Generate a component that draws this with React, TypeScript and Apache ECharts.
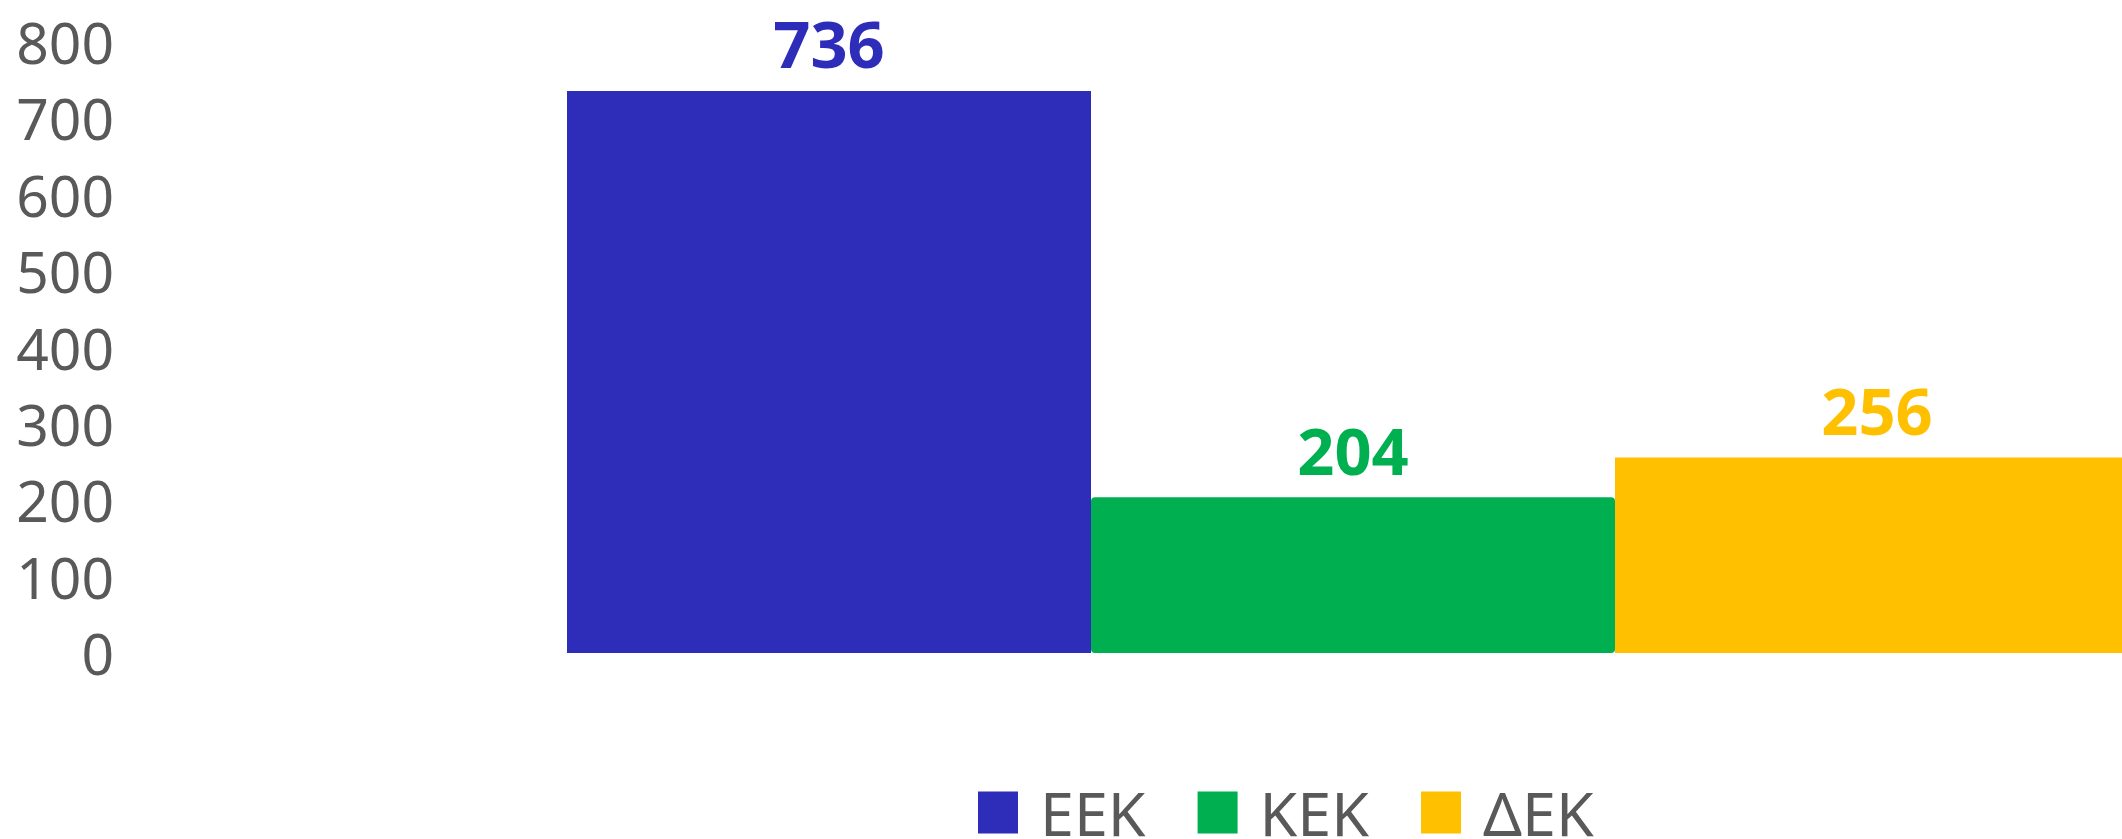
import React, { useEffect, useRef } from "react";
import * as echarts from "echarts";

const categories = [""];
const seriesNames = ["ΕΕΚ", "ΚΕΚ", "ΔΕΚ"];
const seriesValues = [[736], [204], [256]];
const seriesColors = ["#2E2DB9", "#00B050", "#FFC000"];
const yMin = 0;
const yMax = 800;
const yInterval = 100;

const FONT = "'Noto Sans', 'DejaVu Sans', sans-serif";

export default function App() {
  const ref = useRef<HTMLDivElement>(null);
  useEffect(() => {
    if (!ref.current) return;
    const chart = echarts.init(ref.current, undefined, { renderer: "svg" });
    chart.setOption({
      animation: false,
      backgroundColor: "#ffffff",
      grid: { left: 130, right: 14, top: 42, bottom: 186, containLabel: false },
      legend: {
        left: 978,
        top: 782,
        padding: 0,
        icon: "rect",
        itemWidth: 40,
        itemHeight: 42,
        itemGap: 52,
        data: seriesNames,
        textStyle: {
          color: "#595959",
          fontSize: 61,
          fontFamily: FONT,
          padding: [0, 0, 0, 17],
        },
      },
      xAxis: {
        type: "category",
        data: categories,
        axisLine: { show: false },
        axisTick: { show: false },
        axisLabel: { show: false },
      },
      yAxis: {
        type: "value",
        min: yMin,
        max: yMax,
        interval: yInterval,
        splitLine: { show: false },
        axisLine: { show: false },
        axisTick: { show: false },
        axisLabel: {
          color: "#595959",
          fontSize: 57,
          fontFamily: FONT,
          margin: 16,
        },
      },
      series: seriesNames.map((name, i) => ({
        name,
        type: "bar",
        data: seriesValues[i],
        barWidth: 524,
        barGap: "0%",
        itemStyle:
          i === 1
            ? { color: seriesColors[i], borderRadius: 4 }
            : { color: seriesColors[i] },
        label: {
          show: true,
          position: "top",
          distance: 15,
          color: seriesColors[i],
          fontSize: 65,
          fontWeight: "bold",
          fontFamily: FONT,
        },
      })),
    });
    return () => chart.dispose();
  }, []);
  return (
    <div
      style={{
        position: "fixed",
        left: 0,
        top: 0,
        width: 2122,
        height: 839,
        overflow: "hidden",
        background: "#ffffff",
      }}
    >
      <div ref={ref} style={{ width: 2590, height: 839 }} />
    </div>
  );
}
